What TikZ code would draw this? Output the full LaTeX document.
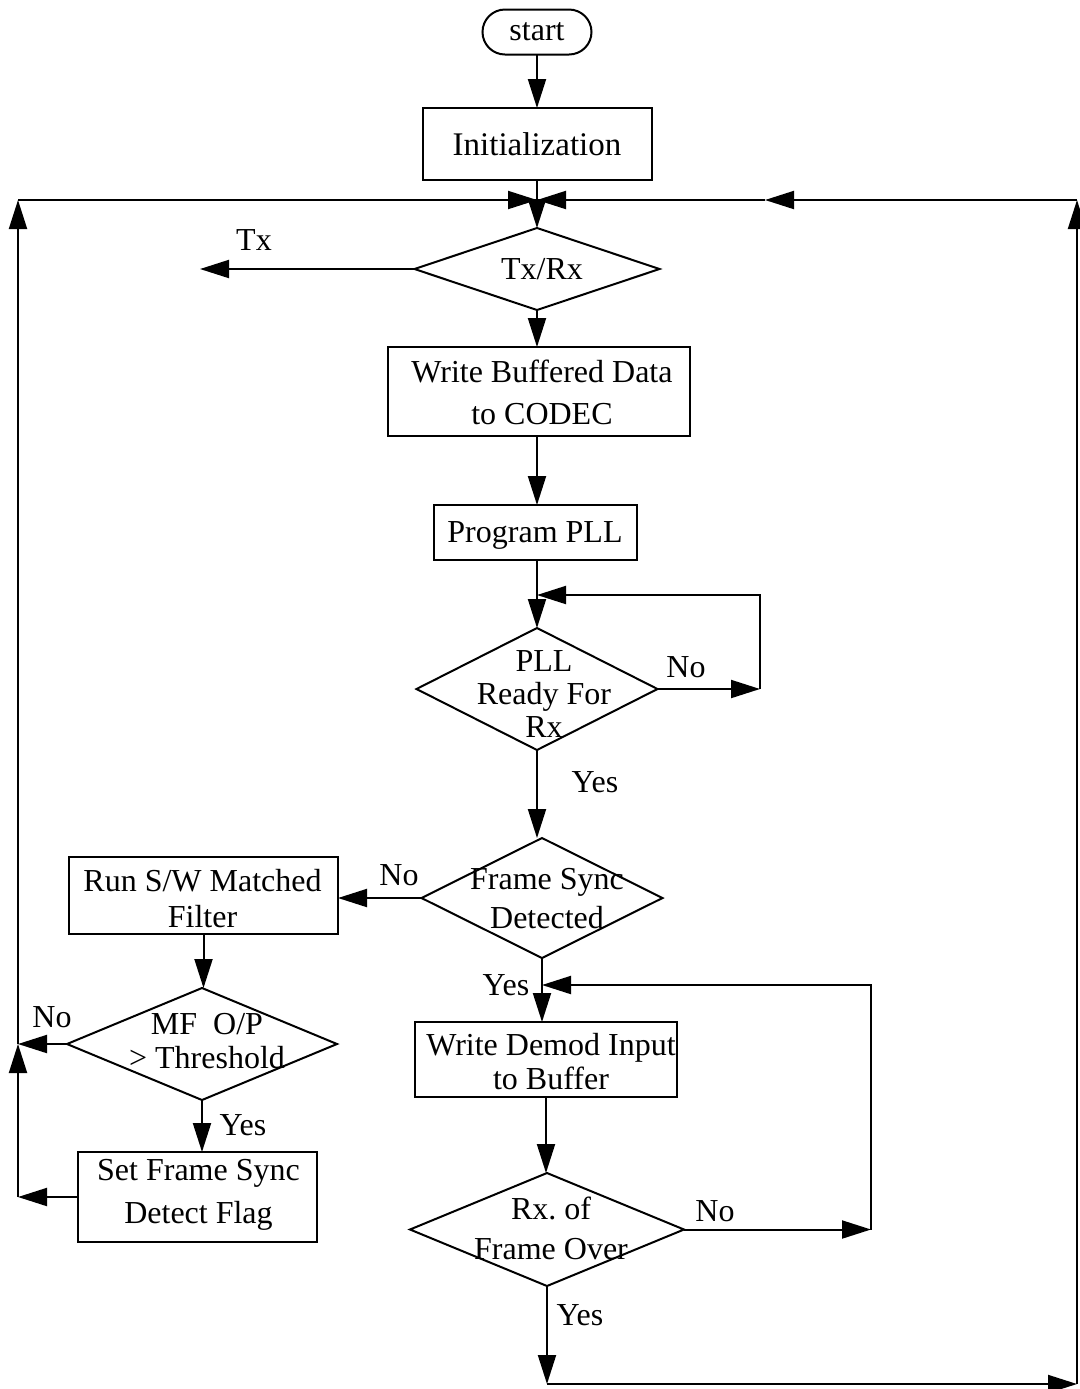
\documentclass[tikz,border=0pt]{standalone}
\usepackage{fontspec}
\setmainfont{Liberation Serif}
\usetikzlibrary{arrows.meta,shapes.geometric}
\newcommand\flowfont[2]{\fontsize{#1}{#2}\selectfont}

\begin{document}
\begin{tikzpicture}[x=0.5pt,y=-0.5pt,
  every node/.style={inner sep=0pt, outer sep=0pt},
  arr/.style={line width=1pt, line join=miter, -{Triangle[length=14.5pt,width=9pt]}},
  procbox/.style={draw, line width=1pt, rectangle},
  decision/.style={draw, line width=1pt, diamond},
  txt/.style={align=center, font=\flowfont{16pt}{19pt}},
  tag/.style={font=\flowfont{16pt}{19pt}}
]
\useasboundingbox (0,0) rectangle (1080,1389);

% ---------- main column ----------
\node[procbox, rounded corners=11.25pt, minimum width=54.5pt, minimum height=22.5pt,
      label={[txt]center:start}] (start) at (537,32) {};
\node[procbox, minimum width=114.5pt, minimum height=36pt,
      label={[txt, font=\flowfont{16.5pt}{19pt}]center:Initialization}] (init) at (537,144) {};
\node[decision, minimum width=122.5pt, minimum height=41pt,
      label={[txt, shift={(5,0)}]center:Tx/Rx}] (txrx) at (537,269) {};
\node[procbox, minimum width=151pt, minimum height=44.5pt,
      label={[txt, font=\flowfont{16pt}{21pt}, shift={(3,1)}]center:Write Buffered Data\\to CODEC}] (wbd) at (539,391.5) {};
\node[procbox, minimum width=101.5pt, minimum height=27.5pt,
      label={[txt, shift={(0,3)}]center:Program PLL}] (prog) at (535,532.5) {};
\node[decision, minimum width=120.5pt, minimum height=61pt,
      label={[txt, font=\flowfont{16pt}{16.5pt}, shift={(7,5)}]center:PLL\\Ready For\\Rx}] (plld) at (537,689) {};
\node[decision, minimum width=120.5pt, minimum height=60pt,
      label={[txt, font=\flowfont{16pt}{19.5pt}, shift={(5,1)}]center:Frame Sync\\Detected}] (fsd) at (542,898) {};
\node[procbox, minimum width=131pt, minimum height=37.5pt,
      label={[txt, font=\flowfont{16pt}{17pt}, shift={(5,2)}]center:Write Demod Input\\to Buffer}] (wdi) at (546,1059.5) {};
\node[decision, minimum width=137pt, minimum height=56.5pt,
      label={[txt, font=\flowfont{16pt}{20pt}, shift={(4,-1)}]center:Rx.\ of\\Frame Over}] (rxo) at (547,1229.5) {};

% ---------- left branch ----------
\node[procbox, minimum width=134.5pt, minimum height=38.5pt,
      label={[txt, font=\flowfont{16pt}{18pt}, shift={(-1,3)}]center:Run S/W Matched\\Filter}] (rsw) at (203.5,895.5) {};
\node[decision, minimum width=135pt, minimum height=56pt,
      label={[txt, font=\flowfont{16pt}{17pt}, shift={(5,-3)}]center:MF~~O/P\\> Threshold}] (mfd) at (202,1044) {};
\node[procbox, minimum width=119.5pt, minimum height=45pt,
      label={[txt, font=\flowfont{16pt}{21.5pt}, shift={(1,-2)}]center:Set Frame Sync\\Detect Flag}] (sfs) at (197.5,1197) {};

% ---------- routing points ----------
\coordinate (jtop) at (537,200);
\coordinate (txend) at (200,269);
\coordinate (pllR) at (760,689);
\coordinate (pllJ) at (537,595);
\coordinate (Ltop) at (18,200);
\coordinate (Lmf) at (Ltop |- mfd.west);
\coordinate (Lsf) at (Ltop |- sfs.west);
\coordinate (rxR) at (871,1229.5);
\coordinate (fsJ) at (542,985);
\coordinate (bL) at (547,1384);
\coordinate (bR) at (1077,1384);
\coordinate (rTop) at (1077,200);
\coordinate (rMid) at (765,200);

% ---------- connectors ----------
\draw[arr] (start) -- (init);
\draw[arr] (init) -- (txrx);
\draw[arr] (txrx.west) -- (txend);
\draw[arr] (txrx) -- (txrx |- wbd.north);
\draw[arr] (wbd.south -| txrx) -- (txrx |- prog.north);
\draw[arr] (prog.south -| plld) -- (plld.north);
\draw[arr] (plld.east) -- (pllR);
\draw[arr] (pllR) |- (pllJ);
\draw[arr] (plld.south) -- (plld.south |- fsd.north);
\draw[arr] (fsd.west) -- (fsd.west -| rsw.east);
\draw[arr] (rsw.south) -- (rsw.south |- mfd.north);
\draw[arr] (mfd.west) -- (Lmf);
\draw[arr] (mfd.south) -- (mfd.south |- sfs.north);
\draw[arr] (sfs.west) -- (Lsf);
\draw[arr] (Lsf) -- (Lmf);
\draw[arr] (Lmf) -- (Ltop);
\draw[arr] (Ltop) -- (jtop);
\draw[arr] (fsd.south) -- (fsd.south |- wdi.north);
\draw[arr] (wdi.south) -- (wdi.south |- rxo.north);
\draw[arr] (rxo.east) -- (rxR);
\draw[arr] (rxR) |- (fsJ);
\draw[arr] (rxo.south) -- (bL);
\draw[arr] (bL) -- (bR);
\draw[arr] (bR) -- (rTop);
\draw[arr] (rTop) -- (rMid);
\draw[arr] (rMid) -- (jtop);

% ---------- branch labels ----------
\node[tag] (tTx) at (254,240) {Tx};
\node[tag] (tNo1) at (686,667) {No};
\node[tag] (tYes1) at (595,782) {Yes};
\node[tag] (tNo2) at (399,875) {No};
\node[tag] (tYes2) at (506,985) {Yes};
\node[tag] (tNo3) at (52,1017) {No};
\node[tag] (tYes3) at (243,1125) {Yes};
\node[tag] (tNo4) at (715,1211) {No};
\node[tag] (tYes4) at (580,1315) {Yes};
\end{tikzpicture}
\end{document}
